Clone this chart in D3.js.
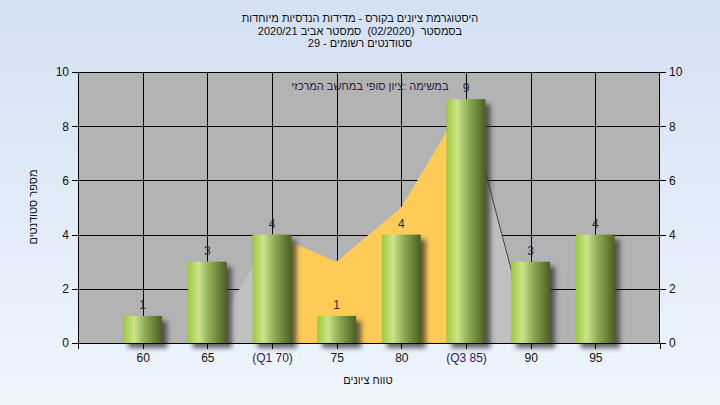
<!DOCTYPE html>
<html><head><meta charset="utf-8">
<script src="https://cdn.jsdelivr.net/npm/d3@7"></script>
<style>
html,body{margin:0;padding:0;}
svg{display:block;}
text{font-family:"Liberation Sans",Arial,"DejaVu Sans",sans-serif;}
</style></head>
<body>
<svg id="chart" width="720" height="405"></svg>
<script>
const titleLines = ["היסטוגרמת ציונים בקורס - מדידות הנדסיות מיוחדות", "בסמסטר  (02/2020)  סמסטר אביב 2020/21", "סטודנטים רשומים - 29"];
const annotation = "במשימה :ציון סופי במחשב המרכזי";
const yTitle = "מספר סטודנטים";
const xTitle = "טווח ציונים";
const grades = [60, 65, 70, 75, 80, 85, 90, 95];
const categories = ["60", "65", "(Q1 70)", "75", "80", "(Q3 85)", "90", "95"];
const counts = [1, 3, 4, 1, 4, 9, 3, 4];
const curveGrades = [65, 70, 75, 80, 85, 90];
const curveValues = [0, 4, 3, 5, 9, 0];
const q1 = 70, q3 = 85;
const yTicks = [0, 2, 4, 6, 8, 10];

const svg = d3.select("#chart");
const W = 720, H = 405;
const m = {left: 78, right: 660, top: 72, bottom: 343};

const defs = svg.append("defs");
const bg = defs.append("linearGradient").attr("id", "bg").attr("x1", 0).attr("y1", 0).attr("x2", 0).attr("y2", 1);
bg.append("stop").attr("offset", "0%").attr("stop-color", "#d4e1f3");
bg.append("stop").attr("offset", "100%").attr("stop-color", "#eef5fd");
const bar = defs.append("linearGradient").attr("id", "bar").attr("x1", 0).attr("y1", 0).attr("x2", 1).attr("y2", 0);
[["0%", "#9cc93a"], ["28%", "#cbe48c"], ["55%", "#8fae55"], ["100%", "#4a5f22"]].forEach(s =>
  bar.append("stop").attr("offset", s[0]).attr("stop-color", s[1]));
const f = defs.append("filter").attr("id", "shadow").attr("x", "-20%").attr("y", "-20%").attr("width", "150%").attr("height", "150%");
f.append("feGaussianBlur").attr("stdDeviation", 2.5);

svg.append("rect").attr("width", W).attr("height", H).attr("fill", "url(#bg)");

const x = d3.scaleLinear().domain([55, 100]).range([m.left, m.right]);
const y = d3.scaleLinear().domain([0, 10]).range([m.bottom, m.top]);

svg.append("rect").attr("x", m.left).attr("y", m.top).attr("width", m.right - m.left).attr("height", m.bottom - m.top).attr("fill", "#b3b3b3");

const grid = svg.append("g").attr("stroke", "#000").attr("stroke-width", 1).attr("shape-rendering", "crispEdges");
grid.selectAll("line.v").data(grades).join("line").attr("class", "v")
  .attr("x1", d => Math.round(x(d)) + 0.5).attr("x2", d => Math.round(x(d)) + 0.5)
  .attr("y1", m.top).attr("y2", m.bottom);
grid.selectAll("line.h").data(yTicks.filter(t => t > 0 && t < 10)).join("line").attr("class", "h")
  .attr("x1", m.left).attr("x2", m.right)
  .attr("y1", d => Math.round(y(d)) + 0.5).attr("y2", d => Math.round(y(d)) + 0.5);

const pts = curveGrades.map((g, i) => [g, curveValues[i]]);
const area = d3.area().x(d => x(d[0])).y0(y(0)).y1(d => y(d[1]));
svg.append("path").datum(pts).attr("d", area).attr("fill", "#c0c0c0");
const qpts = pts.filter(p => p[0] >= q1 && p[0] <= q3);
svg.append("path").datum(qpts).attr("d", area).attr("fill", "#ffcb57");
const tail = pts.filter(p => p[0] >= q3);
svg.append("path").datum(tail).attr("d", d3.line().x(d => x(d[0])).y(d => y(d[1])))
  .attr("fill", "none").attr("stroke", "#444").attr("stroke-width", 1);

const bw = 39;
const data = grades.map((g, i) => ({g, c: counts[i], label: categories[i]}));
svg.append("g").selectAll("rect").data(data).join("rect")
  .attr("x", d => x(d.g) - bw / 2 + 5).attr("y", d => y(d.c) + 5)
  .attr("width", bw).attr("height", d => y(0) - y(d.c))
  .attr("fill", "#333").attr("opacity", 0.75).attr("filter", "url(#shadow)");
svg.append("g").selectAll("rect").data(data).join("rect")
  .attr("x", d => x(d.g) - bw / 2).attr("y", d => y(d.c))
  .attr("width", bw).attr("height", d => y(0) - y(d.c))
  .attr("fill", "url(#bar)");

svg.append("g").selectAll("text").data(data).join("text")
  .attr("x", d => x(d.g)).attr("y", d => y(d.c) - 7)
  .attr("text-anchor", "middle").attr("font-size", 12).attr("fill", "#1e2d40")
  .text(d => d.c);

svg.append("text").attr("x", 370).attr("y", 90).attr("text-anchor", "middle")
  .style("direction", "rtl").style("unicode-bidi", "embed")
  .attr("font-size", 11).attr("fill", "#2a2040").text(annotation);

const axL = d3.axisLeft(y).tickValues(yTicks).tickSize(6).tickPadding(3);
const axR = d3.axisRight(y).tickValues(yTicks).tickSize(6).tickPadding(3);
const axB = d3.axisBottom(x).tickValues(grades).tickFormat((d, i) => categories[i]).tickSize(6).tickPadding(4);
function style(g) {
  g.selectAll("path,line").attr("stroke", "#000").attr("shape-rendering", "crispEdges");
  g.selectAll("text").attr("font-size", 12).attr("fill", "#111")
    .attr("font-family", "'Liberation Sans',Arial,sans-serif");
}
svg.append("g").attr("transform", `translate(${m.left},0)`).call(axL).call(g => g.select(".domain").remove()).call(style);
svg.append("g").attr("transform", `translate(${m.right},0)`).call(axR).call(g => g.select(".domain").remove()).call(style);
const gb = svg.append("g").attr("transform", `translate(0,${m.bottom})`).call(axB).call(g => g.select(".domain").remove()).call(style);
gb.selectAll("text").attr("fill", (d, i) => (grades[i] === q1 || grades[i] === q3) ? "#2a1a5a" : "#111");
svg.append("g").selectAll("line").data([55, 100]).join("line")
  .attr("x1", d => x(d)).attr("x2", d => x(d)).attr("y1", m.bottom).attr("y2", m.bottom + 6)
  .attr("stroke", "#000").attr("shape-rendering", "crispEdges");
svg.append("rect").attr("x", m.left + 0.5).attr("y", m.top + 0.5).attr("width", m.right - m.left - 1).attr("height", m.bottom - m.top)
  .attr("fill", "none").attr("stroke", "#000").attr("shape-rendering", "crispEdges");

svg.append("g").selectAll("text").data(titleLines).join("text")
  .attr("x", 360).attr("y", (d, i) => 22 + i * 12.5)
  .attr("text-anchor", "middle").style("direction", "rtl").style("unicode-bidi", "embed")
  .style("white-space", "pre")
  .attr("font-size", 11).attr("fill", "#111").text(d => d);

svg.append("text").attr("transform", "translate(37,207) rotate(-90)")
  .attr("text-anchor", "middle").style("direction", "rtl").style("unicode-bidi", "embed")
  .attr("font-size", 11).attr("fill", "#111").text(yTitle);
svg.append("text").attr("x", 368).attr("y", 384)
  .attr("text-anchor", "middle").style("direction", "rtl").style("unicode-bidi", "embed")
  .attr("font-size", 11).attr("fill", "#111").text(xTitle);
</script>
</body></html>
